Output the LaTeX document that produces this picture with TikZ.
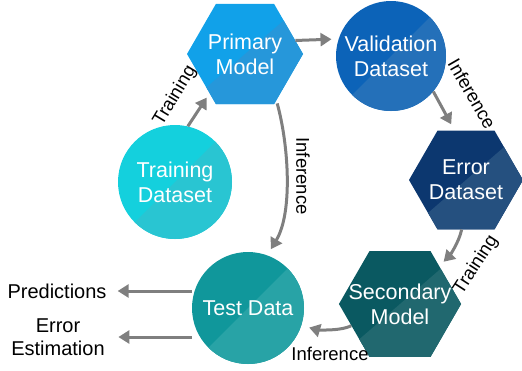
\documentclass[tikz,border=0pt]{standalone}
\usepackage{fontspec}
\setmainfont{Liberation Sans}
\usetikzlibrary{shapes.geometric,arrows.meta}
\definecolor{pmA}{HTML}{11A1E9}\definecolor{pmB}{HTML}{2697DA}
\definecolor{valA}{HTML}{0C63B8}\definecolor{valB}{HTML}{2470B9}
\definecolor{errA}{HTML}{0C376F}\definecolor{errB}{HTML}{25507F}
\definecolor{secA}{HTML}{0A5961}\definecolor{secB}{HTML}{21686F}
\definecolor{tstA}{HTML}{10979B}\definecolor{tstB}{HTML}{28A3A6}
\definecolor{trnA}{HTML}{14D0DD}\definecolor{trnB}{HTML}{29C5D2}
\definecolor{arrgray}{HTML}{7F7F7F}
\begin{document}
\begin{tikzpicture}[x=1pt,y=-1pt,
  mainfont/.style={font=\fontsize{21.5}{25}\selectfont},
  hexa/.style={regular polygon, regular polygon sides=6, minimum size=116pt,
    inner sep=-14pt, text=white, mainfont, align=center},
  circ/.style={circle, minimum size=#1, inner sep=0pt, text=white, mainfont, align=center},
  split/.style={path picture={\fill[#1] (path picture bounding box.north east) --
    (path picture bounding box.south east) -- (path picture bounding box.south west) -- cycle;}},
  arr/.style={draw=arrgray, line width=3pt, -{Triangle[length=11pt,width=13pt]}},
  elabel/.style={font=\fontsize{18.5}{22}\selectfont, inner sep=0pt},
  sidelabel/.style={font=\fontsize{20}{23.5}\selectfont, inner sep=2pt, align=center},
]
\useasboundingbox (0,0) rectangle (522,370);

\node[hexa, fill=pmA, split=pmB] (pm) at (245,54) {Primary\\Model};
\node[circ=110pt, fill=valA, split=valB] (val) at (391,56) {Validation\\Dataset};
\node[hexa, minimum size=114pt, fill=errA, split=errB] (err) at (466,180) {Error\\Dataset};
\node[hexa, fill=secA, split=secB] (sec) at (400,304) {Secondary\\Model};
\node[circ=112pt, fill=tstA, split=tstB] (test) at (248,308) {Test Data};
\node[circ=114pt, fill=trnA, split=trnB] (train) at (175,182) {Training\\Dataset};

\node[sidelabel] (pred) at (57,291) {Predictions};
\node[sidelabel] (ee) at (58,337) {Error\\Estimation};

\draw[arr, shorten >=5pt] (train.77) -- (pm.228);
\draw[arr, shorten >=7pt] (pm.15) -- (val.162);
\draw[arr, shorten >=7pt] (val.-40) -- (err.103);
\draw[arr, shorten >=6pt] (err.-95) .. controls +(-3,14) and +(9,-9) .. (sec.44);
\draw[arr, shorten >=8pt] (sec.204) .. controls +(-12,6) and +(14,4) .. (test.-18);
\draw[arr, shorten >=7pt, shorten <=3pt] (pm.-56) .. controls +(12,43) and +(26,-43) .. (test.70);
\draw[arr, shorten >=9pt] (test.west |- pred.east) -- (pred.east);
\draw[arr, shorten >=11.5pt] (test.west |- ee.east) -- (ee.east);

\node[elabel, rotate=59] (l1) at (175,96) {Training};
\node[elabel, rotate=-60] (l2) at (472,94) {Inference};
\node[elabel, rotate=57] (l3) at (476,265) {Training};
\node[elabel] (l4) at (330,354) {Inference};
\node[elabel, rotate=-90] (l5) at (303,176) {Inference};
\end{tikzpicture}
\end{document}
